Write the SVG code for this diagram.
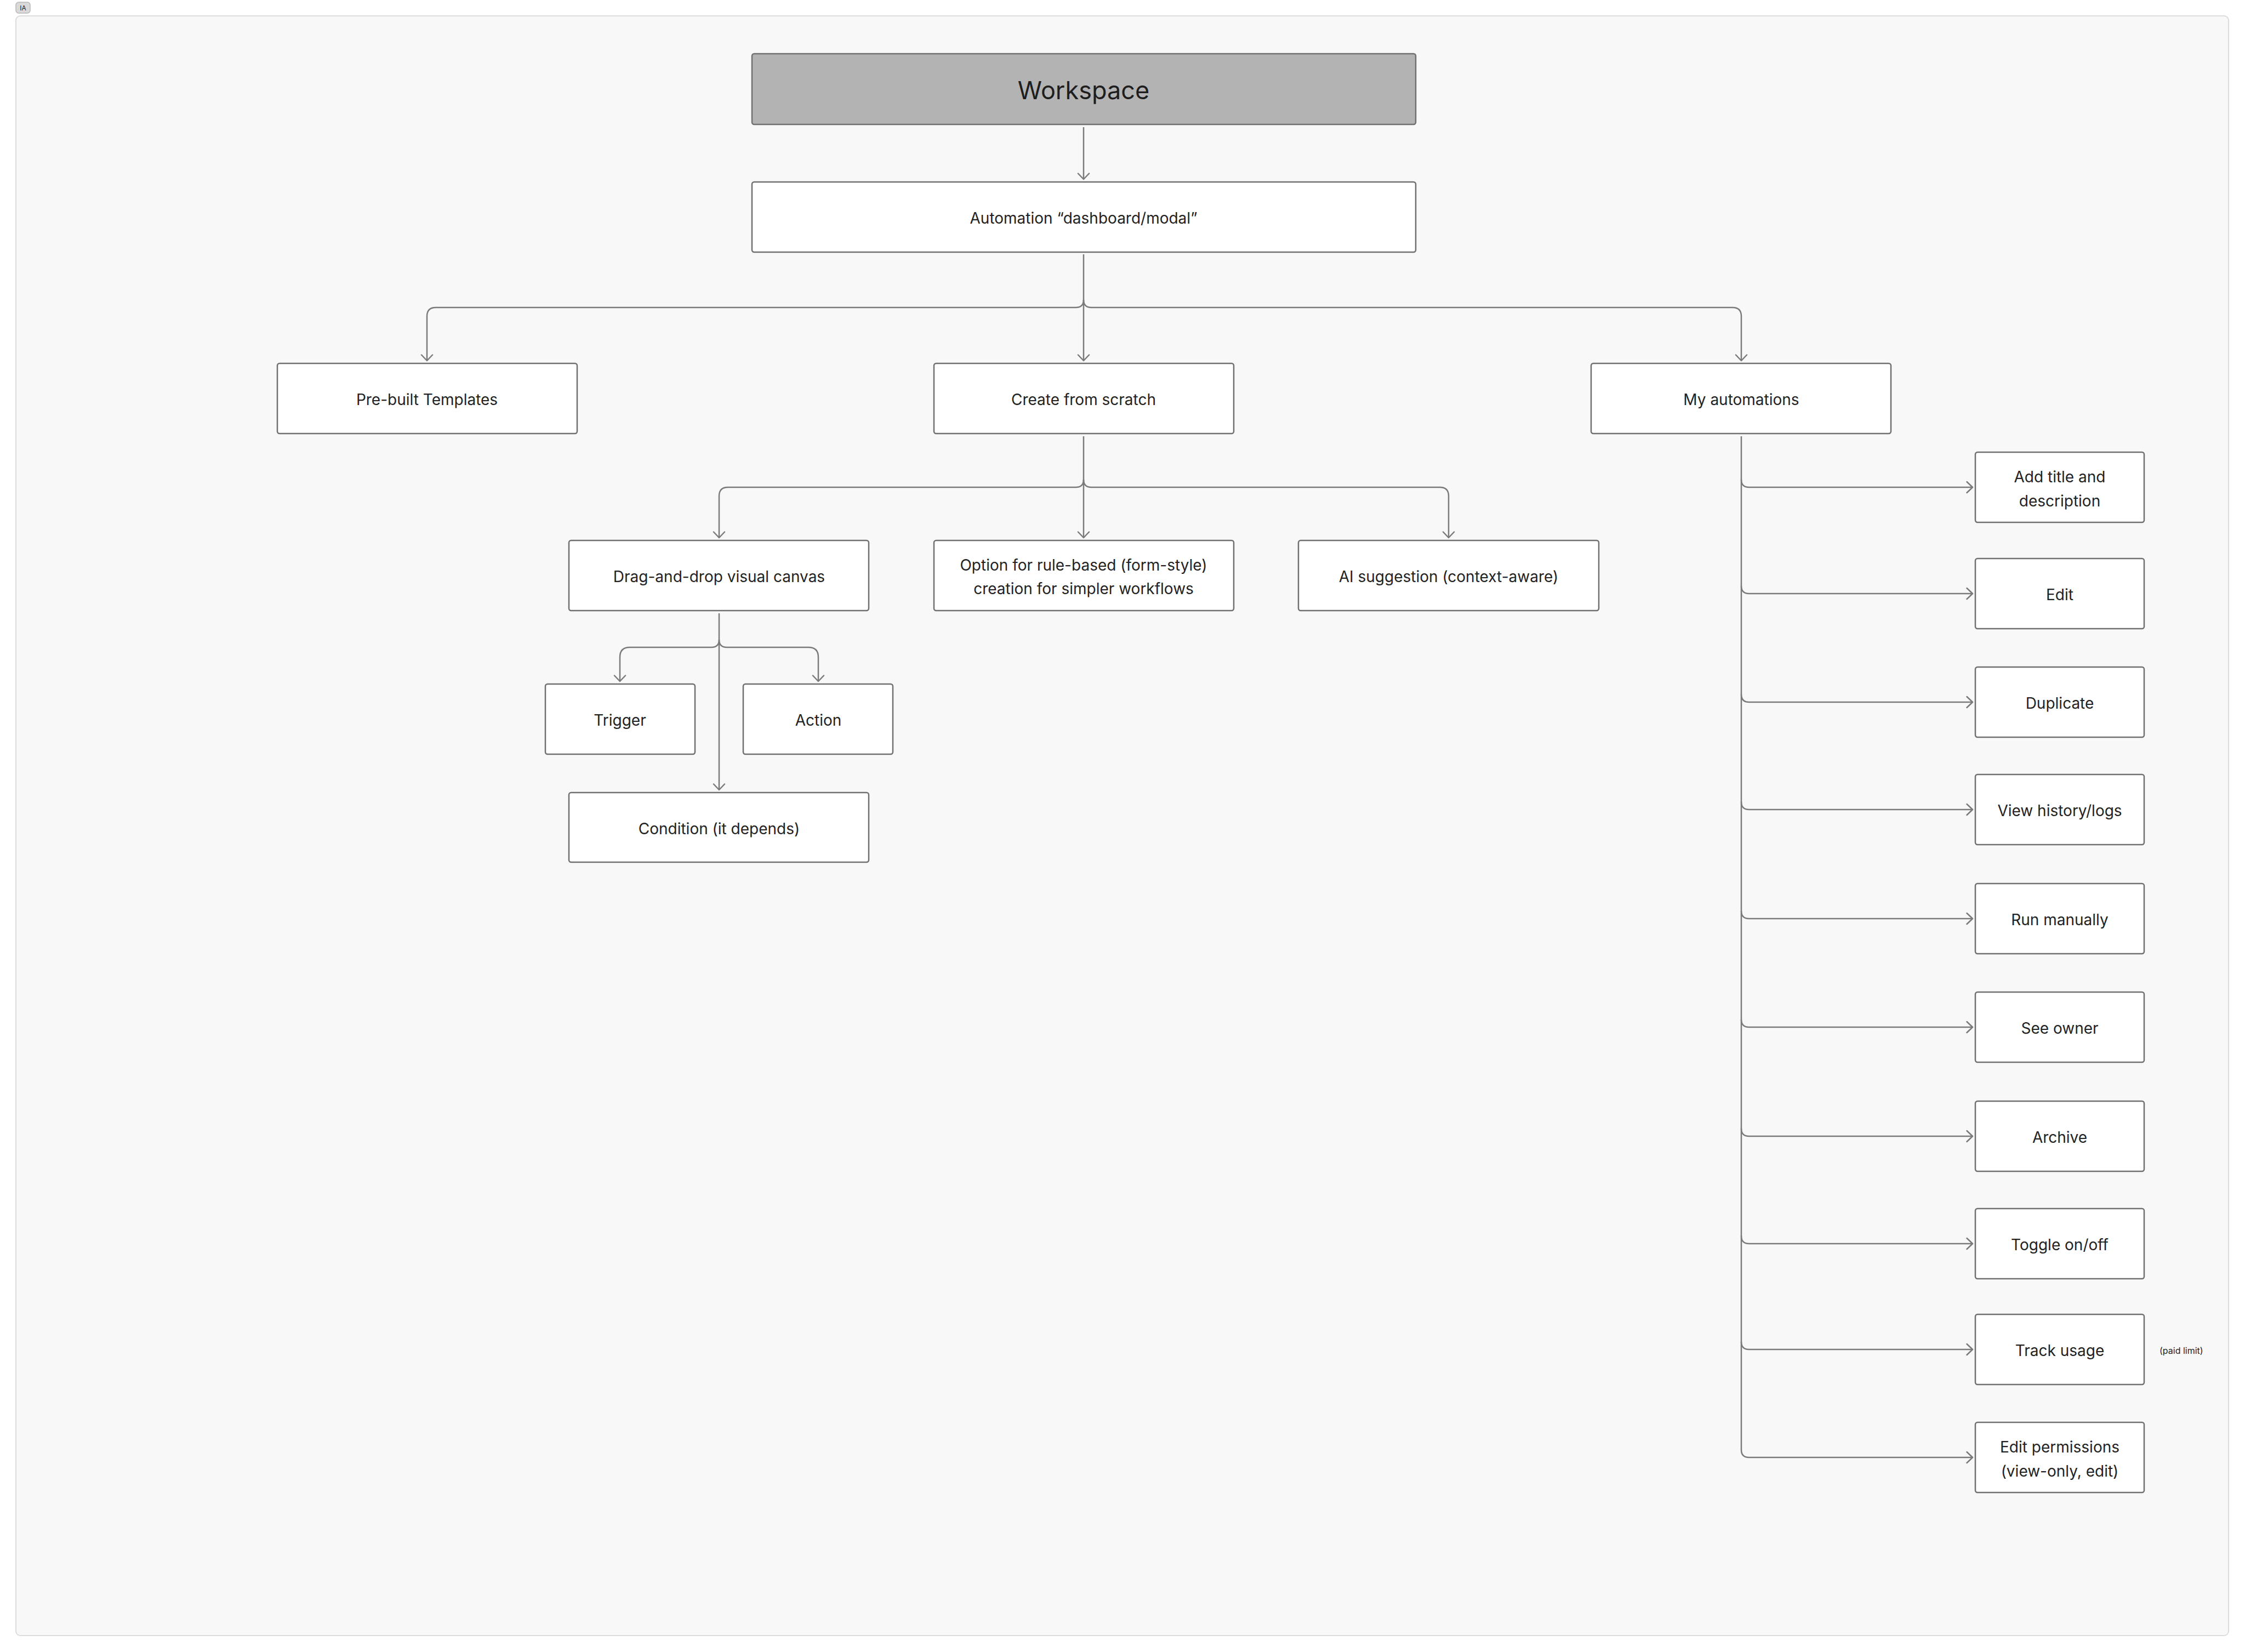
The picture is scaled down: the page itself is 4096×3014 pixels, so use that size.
<svg xmlns="http://www.w3.org/2000/svg" width="4096" height="3014" viewBox="0 0 4096 3014">
<style>
.box{fill:#ffffff;stroke:#707070;stroke-width:2.5}
.ws{fill:#b3b3b3;stroke:#707070;stroke-width:2.5}
.t{font-family:Inter,"Liberation Sans",sans-serif;font-size:28px;fill:#222222;text-anchor:middle;dominant-baseline:central}
.big{font-size:45px;fill:#1e1e1e}
.small{font-size:16px;text-anchor:start}
.c{fill:none;stroke:#7a7a7a;stroke-width:2.5;marker-end:url(#arr)}
.cn{fill:none;stroke:#7a7a7a;stroke-width:2.5}
</style>
<defs>
<marker id="arr" viewBox="0 0 14 24" refX="12" refY="12" markerWidth="14" markerHeight="24" markerUnits="userSpaceOnUse" orient="auto">
<path d="M1.5,2 L12,12 L1.5,22" fill="none" stroke="#7a7a7a" stroke-width="2.5" stroke-linecap="round" stroke-linejoin="round"/>
</marker>
</defs>
<rect x="0" y="0" width="4096" height="3014" fill="#ffffff"/>
<g id="frame">
<rect x="29" y="29" width="4037" height="2955" rx="8" fill="#f8f8f8" stroke="#dcdcdc" stroke-width="2"/>
<rect x="29" y="4" width="26" height="20" rx="5" fill="#d9d9d9" stroke="#b8b8b8" stroke-width="1.5"/>
<text x="42" y="14.5" class="t" style="font-size:12px;fill:#222">IA</text>
</g>
<g id="connectors">
<path class="c" d="M1977,232 V327"/>
<path class="c" d="M1977,464 V658"/>
<path class="c" d="M1977,547 Q1977,561 1963,561 H795 Q779,561 779,577 V658"/>
<path class="c" d="M1977,547 Q1977,561 1991,561 H3161 Q3177,561 3177,577 V658"/>
<path class="c" d="M1977,796 V981"/>
<path class="c" d="M1977,875 Q1977,889 1963,889 H1328 Q1312,889 1312,905 V981"/>
<path class="c" d="M1977,875 Q1977,889 1991,889 H2627 Q2643,889 2643,905 V981"/>
<path class="c" d="M1312,1119 V1441"/>
<path class="c" d="M1312,1167 Q1312,1181 1298,1181 H1149 Q1131,1181 1131,1199 V1243"/>
<path class="c" d="M1312,1167 Q1312,1181 1326,1181 H1475 Q1493,1181 1493,1199 V1243"/>
<path class="cn" d="M3177,796 V2645"/>
<path class="c" d="M3177,875 Q3177,889 3191,889 H3599"/>
<path class="c" d="M3177,1069 Q3177,1083 3191,1083 H3599"/>
<path class="c" d="M3177,1267 Q3177,1281 3191,1281 H3599"/>
<path class="c" d="M3177,1463 Q3177,1477 3191,1477 H3599"/>
<path class="c" d="M3177,1662 Q3177,1676 3191,1676 H3599"/>
<path class="c" d="M3177,1860 Q3177,1874 3191,1874 H3599"/>
<path class="c" d="M3177,2059 Q3177,2073 3191,2073 H3599"/>
<path class="c" d="M3177,2255 Q3177,2269 3191,2269 H3599"/>
<path class="c" d="M3177,2448 Q3177,2462 3191,2462 H3599"/>
<path class="c" d="M3177,2645 Q3177,2659 3191,2659 H3599"/>
</g>
<g id="workspace"><rect class="ws" x="1372" y="98" width="1211" height="129" rx="4"/><text class="t big" x="1977" y="164">Workspace</text></g>
<g id="automation"><rect class="box" x="1372" y="332" width="1211" height="128" rx="4"/><text class="t" x="1977" y="398">Automation “dashboard/modal”</text></g>
<g id="prebuilt"><rect class="box" x="506" y="663" width="547" height="128" rx="4"/><text class="t" x="779" y="729">Pre-built Templates</text></g>
<g id="scratch"><rect class="box" x="1704" y="663" width="547" height="128" rx="4"/><text class="t" x="1977" y="729">Create from scratch</text></g>
<g id="myauto"><rect class="box" x="2903" y="663" width="547" height="128" rx="4"/><text class="t" x="3177" y="729">My automations</text></g>
<g id="dragdrop"><rect class="box" x="1038" y="986" width="547" height="128" rx="4"/><text class="t" x="1312" y="1052">Drag-and-drop visual canvas</text></g>
<g id="rulebased"><rect class="box" x="1704" y="986" width="547" height="128" rx="4"/><text class="t" x="1977" y="1031">Option for rule-based (form-style)</text><text class="t" x="1977" y="1074">creation for simpler workflows</text></g>
<g id="ai"><rect class="box" x="2369" y="986" width="548" height="128" rx="4"/><text class="t" x="2643" y="1052">AI suggestion (context-aware)</text></g>
<g id="trigger"><rect class="box" x="995" y="1248" width="273" height="128" rx="4"/><text class="t" x="1131" y="1314">Trigger</text></g>
<g id="action"><rect class="box" x="1356" y="1248" width="273" height="128" rx="4"/><text class="t" x="1493" y="1314">Action</text></g>
<g id="condition"><rect class="box" x="1038" y="1446" width="547" height="127" rx="4"/><text class="t" x="1312" y="1512">Condition (it depends)</text></g>
<g id="addtitle"><rect class="box" x="3604" y="825" width="308" height="128" rx="4"/><text class="t" x="3758" y="870">Add title and</text><text class="t" x="3758" y="914">description</text></g>
<g id="edit"><rect class="box" x="3604" y="1019" width="308" height="128" rx="4"/><text class="t" x="3758" y="1085">Edit</text></g>
<g id="duplicate"><rect class="box" x="3604" y="1217" width="308" height="128" rx="4"/><text class="t" x="3758" y="1283">Duplicate</text></g>
<g id="history"><rect class="box" x="3604" y="1413" width="308" height="128" rx="4"/><text class="t" x="3758" y="1479">View history/logs</text></g>
<g id="run"><rect class="box" x="3604" y="1612" width="308" height="128" rx="4"/><text class="t" x="3758" y="1678">Run manually</text></g>
<g id="owner"><rect class="box" x="3604" y="1810" width="308" height="128" rx="4"/><text class="t" x="3758" y="1876">See owner</text></g>
<g id="archive"><rect class="box" x="3604" y="2009" width="308" height="128" rx="4"/><text class="t" x="3758" y="2075">Archive</text></g>
<g id="toggle"><rect class="box" x="3604" y="2205" width="308" height="128" rx="4"/><text class="t" x="3758" y="2271">Toggle on/off</text></g>
<g id="track"><rect class="box" x="3604" y="2398" width="308" height="128" rx="4"/><text class="t" x="3758" y="2464">Track usage</text></g>
<g id="paidlimit"><text class="t small" x="3940" y="2464">(paid limit)</text></g>
<g id="permissions"><rect class="box" x="3604" y="2595" width="308" height="128" rx="4"/><text class="t" x="3758" y="2640">Edit permissions</text><text class="t" x="3758" y="2684">(view-only, edit)</text></g>
</svg>
